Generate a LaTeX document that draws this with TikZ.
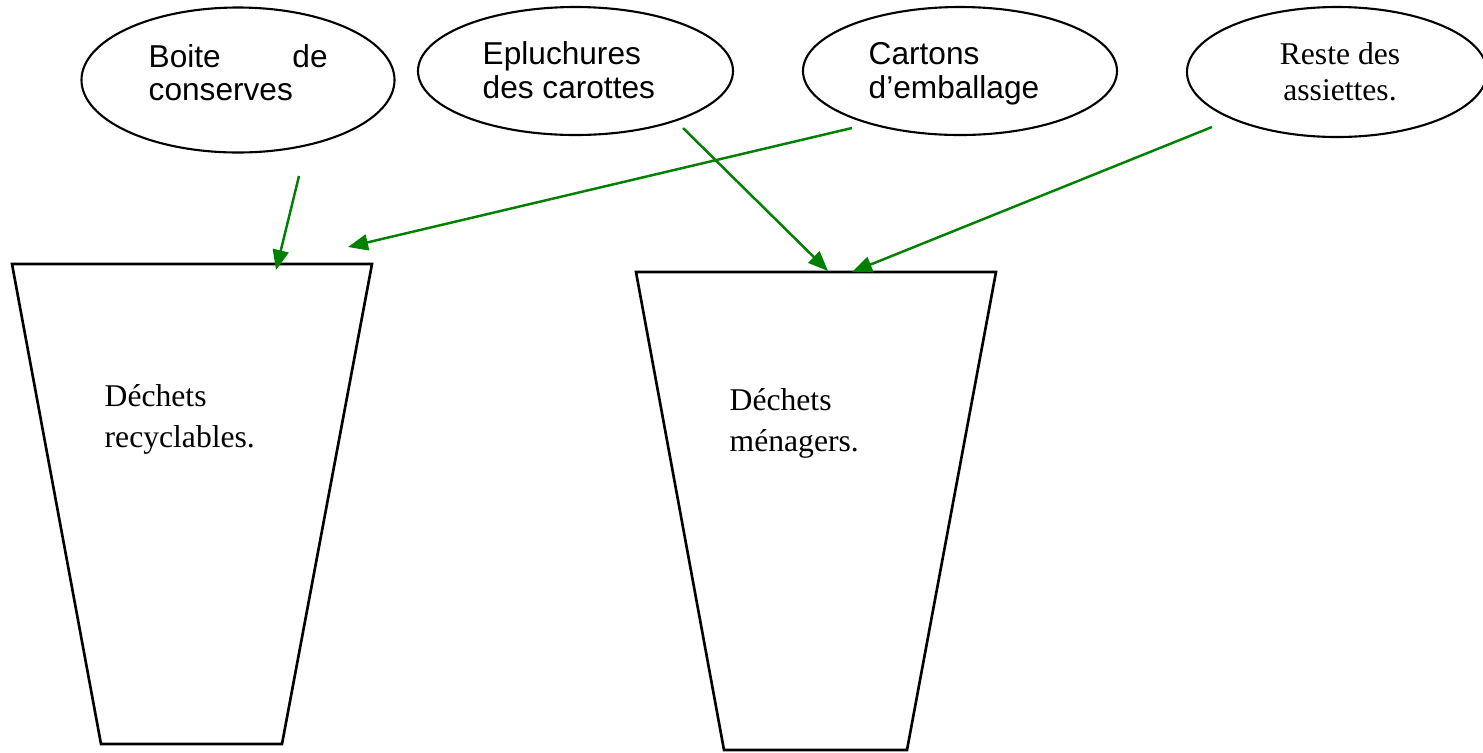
\documentclass[tikz,border=0pt]{standalone}
\usepackage{fontspec}
\setmainfont{Liberation Serif}
\newfontfamily\arialfont{Liberation Sans}
\usetikzlibrary{shapes.geometric,arrows.meta}
\definecolor{arrowgreen}{RGB}{0,128,0}
\tikzset{
  bubble/.style={draw,ellipse,line width=0.6pt,inner sep=0pt},
  sanslabel/.style={anchor=base west,inner sep=0pt,align=left,font=\arialfont\fontsize{9}{9.5}\selectfont},
  serlabel/.style={anchor=base west,inner sep=0pt,align=left,font=\fontsize{9}{11.6}\selectfont},
  tobin/.style={arrowgreen,line width=0.7pt,-{Triangle[length=0.2cm,width=0.16cm]}}
}
\begin{document}
\begin{tikzpicture}
\useasboundingbox (0,0) rectangle (14.83,7.52);
% the two bins
\draw[line width=0.75pt] (0.12,4.88) -- (3.72,4.88) -- (2.82,0.08) -- (1.01,0.08) -- cycle;
\draw[line width=0.75pt] (6.36,4.80) -- (9.96,4.80) -- (9.07,0.02) -- (7.24,0.02) -- cycle;
\node[serlabel] (recyc) at (1.04,3.05) {D\'echets\\recyclables.};
\node[serlabel] (menag) at (7.29,3.01) {D\'echets\\m\'enagers.};
% the four bubbles
\node[bubble,minimum width=3.13cm,minimum height=1.45cm] (boite) at (2.38,6.72) {};
\node[bubble,minimum width=3.15cm,minimum height=1.28cm] (epluch) at (5.755,6.81) {};
\node[bubble,minimum width=3.14cm,minimum height=1.28cm] (cartons) at (9.60,6.81) {};
\node[bubble,minimum width=3.00cm,minimum height=1.30cm] (reste) at (13.37,6.80) {};
\node[sanslabel,text width=1.79cm] (boiteT) at (1.48,6.85) {Boite\hfill de\\conserves};
\node[sanslabel] (epluchT) at (4.82,6.54) {Epluchures\\des carottes};
\node[sanslabel] (cartonsT) at (8.68,6.54) {Cartons\\d’emballage};
\node[serlabel,align=center,anchor=base,font=\fontsize{9}{10.2}\selectfont] (resteT) at (13.40,6.52) {Reste des\\assiettes.};
% arrows
\coordinate (boiteA) at (2.99,5.76);
\coordinate (cartonsA) at (8.52,6.24);
\coordinate (epluchA) at (6.83,6.24);
\coordinate (resteA) at (12.12,6.25);
\coordinate (recycA) at (2.76,4.82);
\coordinate (recycB) at (3.48,5.05);
\coordinate (menagA) at (8.28,4.81);
\coordinate (menagB) at (8.52,4.80);
\draw[tobin] (boiteA) -- (recycA);
\draw[tobin] (cartonsA) -- (recycB);
\draw[tobin] (epluchA) -- (menagA);
\draw[tobin] (resteA) -- (menagB);
\end{tikzpicture}
\end{document}
